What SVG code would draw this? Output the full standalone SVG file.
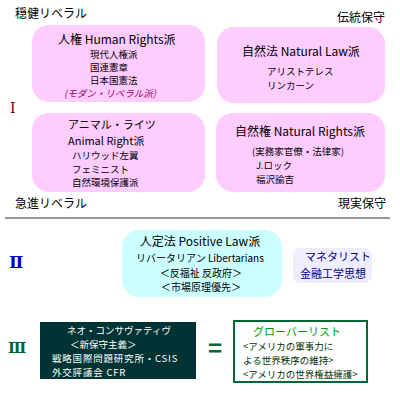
<svg xmlns="http://www.w3.org/2000/svg" width="400" height="400" viewBox="0 0 400 400">
<style>
text{font-family:"Noto Sans CJK JP","Liberation Sans",sans-serif;fill:#000}
.pink{fill:#ffccff}
.h{font-size:12px}
.s{font-size:9.5px}
.axis{font-size:12px}
.rn{font-family:"DejaVu Serif","Liberation Serif","Noto Sans CJK JP",serif}
</style>
<rect width="400" height="400" fill="#fff"/>
<g id="axis-labels">
<text class="axis" x="15" y="18">穏健リベラル</text>
<text class="axis" x="337" y="22">伝統保守</text>
<text class="axis" x="15" y="208">急進リベラル</text>
<text class="axis" x="338" y="208">現実保守</text>
<text class="rn" x="10" y="113" font-size="14" style="fill:#660000">Ⅰ</text>
</g>
<g id="human-rights">
<rect class="pink" x="32" y="25" width="173" height="77" rx="17"/>
<text class="h" x="58" y="44">人権 Human Rights派</text>
<text class="s" x="90" y="58">現代人権派</text>
<text class="s" x="90" y="71">国連憲章</text>
<text class="s" x="90" y="84">日本国憲法</text>
<text class="s" x="64" y="97" font-style="italic" style="fill:#990066">(モダン・リベラル派)</text>
</g>
<g id="natural-law">
<rect class="pink" x="217" y="27" width="168" height="76" rx="17"/>
<text class="h" x="242" y="56">自然法 Natural Law派</text>
<text class="s" x="267" y="75">アリストテレス</text>
<text class="s" x="267" y="89">リンカーン</text>
</g>
<g id="animal-right">
<rect class="pink" x="32" y="113" width="173" height="79" rx="17"/>
<text x="68" y="129" font-size="11">アニマル・ライツ</text>
<text x="68" y="145" font-size="11">Animal Right派</text>
<text class="s" x="72" y="159">ハリウッド左翼</text>
<text class="s" x="72" y="172.5">フェミニスト</text>
<text class="s" x="72" y="186">自然環境保護派</text>
</g>
<g id="natural-rights">
<rect class="pink" x="216" y="113" width="169" height="79" rx="17"/>
<text class="h" x="235" y="136">自然権 Natural Rights派</text>
<text class="s" x="252" y="155">(実務家官僚・法律家)</text>
<text class="s" x="256" y="169">J.ロック</text>
<text class="s" x="256" y="183">福沢諭吉</text>
</g>
<g id="connectors">
<line x1="5" y1="218" x2="390" y2="218" stroke="#333" stroke-width="1.2"/>
</g>
<g id="section2">
<text class="rn" x="9" y="268" font-size="17" font-weight="bold" style="fill:#0000cc">Ⅱ</text>
</g>
<g id="positive-law">
<rect x="122" y="230" width="160" height="67" rx="17" fill="#ccffff"/>
<text x="200" y="246" font-size="12" text-anchor="middle">人定法 Positive Law派</text>
<text x="200" y="262" font-size="10" text-anchor="middle">リバータリアン Libertarians</text>
<text x="201" y="276.5" font-size="10" text-anchor="middle">＜反福祉 反政府＞</text>
<text x="201" y="291" font-size="10" text-anchor="middle">＜市場原理優先＞</text>
</g>
<g id="monetarist">
<path d="M298,248 H367 L372,253 V278 L367,283 H298 L293,278 V253 Z" fill="#eeeeff"/>
<text x="305" y="261" font-size="11" style="fill:#000080">マネタリスト</text>
<text x="300" y="278" font-size="11" style="fill:#000080">金融工学思想</text>
</g>
<g id="section3">
<text class="rn" x="8" y="353" font-size="15" font-weight="bold" style="fill:#006633">Ⅲ</text>
<text x="215" y="357" font-size="24" font-weight="bold" text-anchor="middle" style="fill:#006633">=</text>
</g>
<g id="neocon">
<rect x="40" y="322" width="156" height="57" fill="#003333"/>
<text x="67" y="334" font-size="9.5" style="fill:#fff">ネオ・コンサヴァティヴ</text>
<text x="70" y="348" font-size="9.5" style="fill:#fff">＜新保守主義＞</text>
<text x="52" y="362" font-size="9.5" style="fill:#fff" letter-spacing="0.8">戦略国際問題研究所・CSIS</text>
<text x="52" y="376" font-size="9.5" style="fill:#fff" letter-spacing="0.8">外交評議会 CFR</text>
</g>
<g id="globalist">
<rect x="234" y="321" width="133" height="61" fill="#fff" stroke="#006633" stroke-width="2"/>
<text x="253" y="336" font-size="11" style="fill:#009900">グローバーリスト</text>
<text x="243" y="350" font-size="9.5" style="fill:#003300">&lt;アメリカの軍事力に</text>
<text x="243" y="364" font-size="9.5" style="fill:#003300">よる世界秩序の維持&gt;</text>
<text x="243" y="378" font-size="9.5" style="fill:#003300">&lt;アメリカの世界権益擁護&gt;</text>
</g>
</svg>
